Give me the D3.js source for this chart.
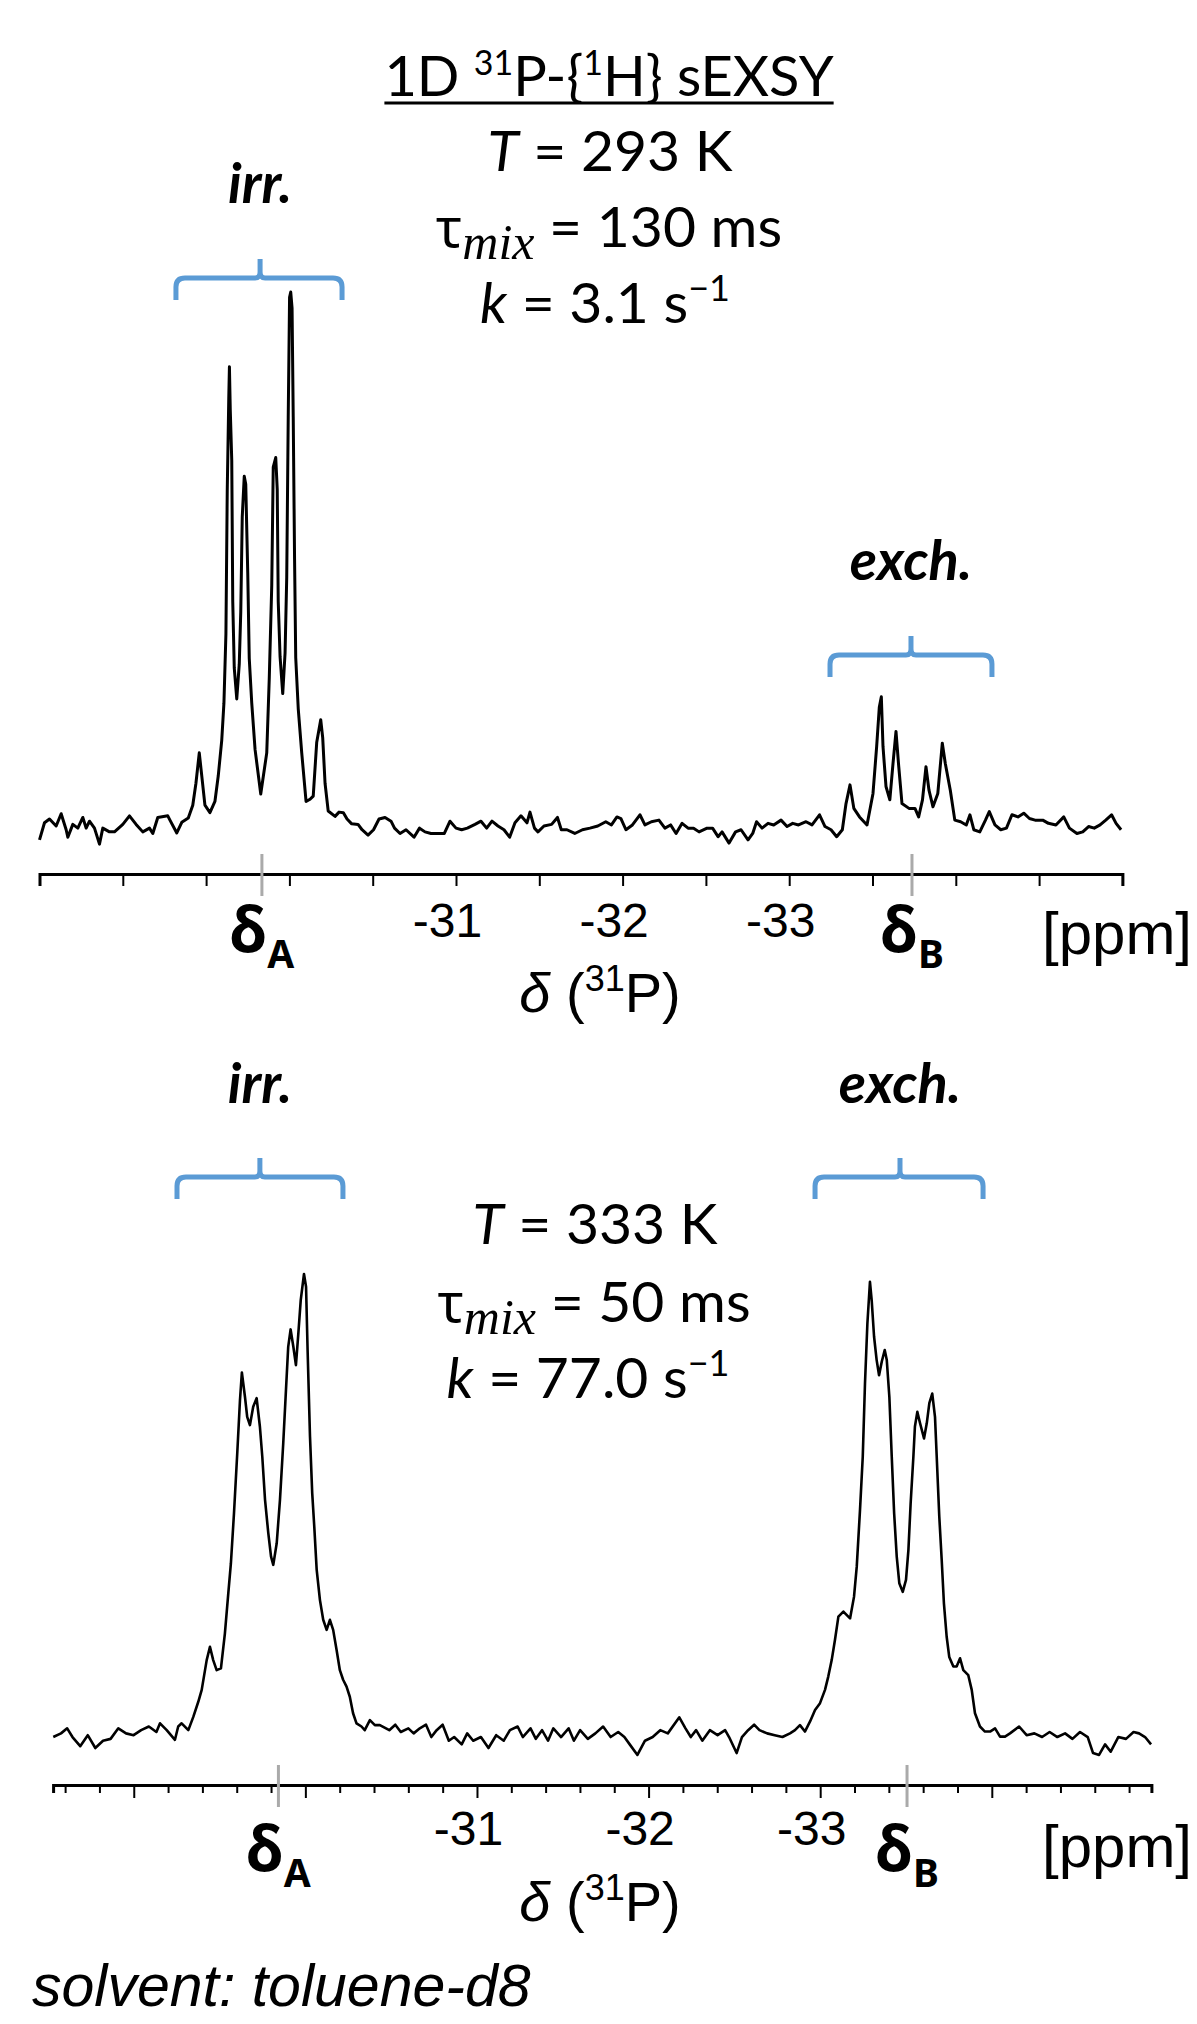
<html>

<head>
    <script src="https://d3js.org/d3.v7.min.js"></script>
    <style>
        body { margin: 0; background: #fff; }
        svg { display: block; background: #fff; }
    </style>
</head>

<body>
    <div id="chart">
        <svg width="1197" height="2024"></svg>
    </div>
    <script>
        // 31P spectrum at 293 K, [ppm, intensity] (tallest line = 100)
        var spec293 = [
            [-28.50, -2.6], [-28.53, 0.6], [-28.56, 1.3], [-28.60, 0.0], [-28.63, 2.3], [-28.66, -0.7], [-28.67, -2.1],
            [-28.70, 0.3], [-28.73, -0.4], [-28.76, 1.6], [-28.78, -0.4], [-28.80, 0.9], [-28.83, -0.4], [-28.86, -3.4],
            [-28.88, -0.4], [-28.92, -1.1], [-28.95, -1.1], [-29.00, 0.3], [-29.04, 1.9], [-29.08, 0.3], [-29.12, -1.1],
            [-29.16, -0.4], [-29.18, -1.4], [-29.21, 1.6], [-29.27, 1.9], [-29.283, 1.1], [-29.324, -1.3], [-29.354, 0.7],
            [-29.393, 1.5], [-29.420, 3.9], [-29.439, 8.0], [-29.459, 13.7], [-29.474, 9.4], [-29.493, 3.9], [-29.523, 2.5],
            [-29.553, 4.6], [-29.573, 9.4], [-29.594, 16.1], [-29.607, 23.0], [-29.619, 36.0], [-29.627, 63.0], [-29.636, 80.0],
            [-29.640, 86.0], [-29.645, 78.0], [-29.654, 68.4], [-29.660, 42.0], [-29.669, 29.6], [-29.684, 23.8], [-29.699, 30.3],
            [-29.708, 40.0], [-29.717, 57.9], [-29.729, 65.5], [-29.738, 64.0], [-29.750, 47.4], [-29.759, 31.4], [-29.774, 23.0],
            [-29.794, 14.3], [-29.828, 6.0], [-29.864, 13.7], [-29.879, 27.5], [-29.894, 45.0], [-29.903, 67.2], [-29.918, 69.0],
            [-29.927, 63.0], [-29.933, 42.0], [-29.944, 31.7], [-29.960, 24.8], [-29.974, 32.4], [-29.984, 46.6], [-29.993, 76.6],
            [-30.001, 99.0], [-30.008, 100], [-30.016, 97.0], [-30.023, 76.6], [-30.031, 50.0], [-30.038, 31.5], [-30.053, 22.0],
            [-30.074, 13.7], [-30.100, 4.6], [-30.124, 5.0], [-30.143, 5.6], [-30.164, 15.7], [-30.188, 19.9], [-30.200, 16.5],
            [-30.214, 8.0], [-30.233, 2.8], [-30.274, 1.8], [-30.298, 2.6], [-30.324, 2.5], [-30.346, 1.3], [-30.374, 0.4],
            [-30.412, 0.3], [-30.436, -0.7], [-30.472, -1.7], [-30.505, -0.7], [-30.538, 1.3], [-30.574, 1.6], [-30.610, 0.9],
            [-30.631, -0.4], [-30.664, -1.4], [-30.700, -0.7], [-30.748, -2.1], [-30.781, -0.4], [-30.814, -1.1], [-30.850, -1.4],
            [-30.886, -1.4], [-30.930, -1.4], [-30.964, 0.9], [-31.000, -0.4], [-31.034, -0.7], [-31.068, -0.4], [-31.114, 0.3],
            [-31.150, 0.9], [-31.184, -0.4], [-31.216, 0.9], [-31.252, 0.0], [-31.288, -0.7], [-31.322, -2.1], [-31.354, 0.6],
            [-31.390, 1.9], [-31.426, 0.6], [-31.444, 2.6], [-31.471, -0.4], [-31.492, -1.1], [-31.528, 0.0], [-31.574, 0.3],
            [-31.609, 1.6], [-31.632, -0.7], [-31.666, -0.7], [-31.713, -1.4], [-31.759, -0.7], [-31.804, -0.4], [-31.851, 0.0],
            [-31.899, 0.8], [-31.933, 0.2], [-31.966, 1.7], [-31.990, 1.4], [-32.020, -0.7], [-32.059, 0.2], [-32.104, 2.1],
            [-32.134, 0.2], [-32.173, 0.8], [-32.218, 1.1], [-32.254, -0.4], [-32.288, 0.2], [-32.321, -1.4], [-32.357, 0.5],
            [-32.393, -0.4], [-32.426, -0.4], [-32.459, -1.1], [-32.507, -0.4], [-32.540, -0.4], [-32.573, -2.0], [-32.597, -1.1],
            [-32.639, -3.2], [-32.678, -1.1], [-32.711, -0.7], [-32.753, -2.6], [-32.781, -1.4], [-32.804, 0.8], [-32.837, -0.4],
            [-32.873, 0.5], [-32.907, 0.2], [-32.951, 1.1], [-32.987, -0.1], [-33.021, 0.5], [-33.056, 0.2], [-33.101, 0.8],
            [-33.137, 0.2], [-33.182, 2.1], [-33.215, -0.1], [-33.251, -0.7], [-33.285, -2.0], [-33.319, -0.7], [-33.341, 4.2],
            [-33.365, 7.7], [-33.388, 3.3], [-33.422, 1.7], [-33.467, 0.2], [-33.503, 6.1], [-33.525, 14.9], [-33.541, 22.3],
            [-33.553, 24.2], [-33.563, 14.9], [-33.581, 7.4], [-33.604, 4.9], [-33.623, 11.7], [-33.641, 17.7], [-33.656, 11.7],
            [-33.677, 4.2], [-33.719, 3.3], [-33.755, 3.3], [-33.777, 1.7], [-33.800, 4.9], [-33.821, 11.1], [-33.839, 6.7],
            [-33.863, 3.6], [-33.892, 6.1], [-33.919, 15.5], [-33.937, 11.7], [-33.967, 6.7], [-33.994, 1.1], [-34.029, 0.8],
            [-34.063, 0.2], [-34.085, 2.1], [-34.108, -0.7], [-34.144, -1.1], [-34.178, 1.1], [-34.201, 2.7], [-34.235, 0.2],
            [-34.270, -0.7], [-34.304, -0.4], [-34.337, 2.1], [-34.373, 1.7], [-34.408, 2.4], [-34.442, 1.4], [-34.476, 1.1],
            [-34.522, 1.1], [-34.556, 0.5], [-34.601, 0.2], [-34.648, 1.7], [-34.682, -0.4], [-34.727, -1.4], [-34.762, -1.1],
            [-34.797, -0.1], [-34.831, -0.4], [-34.866, 0.2], [-34.900, 1.1], [-34.935, 2.1], [-34.962, 0.5], [-34.992, -0.7]
        ]

        // 31P spectrum at 333 K, [ppm, intensity] (tallest line = 100)
        var spec333 = [
            [-28.531, -1.1], [-28.576, -0.3], [-28.612, 0.8], [-28.643, -1.1], [-28.688, -3.1], [-28.732, -0.7], [-28.776, -3.5],
            [-28.821, -1.9], [-28.865, -1.5], [-28.910, 0.8], [-28.955, -0.3], [-28.999, -0.7], [-29.043, 0.4], [-29.088, 1.2],
            [-29.132, 0.0], [-29.153, 1.9], [-29.192, 0.4], [-29.240, -1.7], [-29.259, 1.2], [-29.279, 1.9], [-29.318, 0.4],
            [-29.347, 3.3], [-29.376, 6.6], [-29.396, 9.2], [-29.425, 15.7], [-29.444, 18.6], [-29.463, 15.7], [-29.483, 13.5],
            [-29.508, 13.9], [-29.531, 21.5], [-29.551, 30.3], [-29.566, 36.8], [-29.584, 47.7], [-29.603, 60.8], [-29.619, 72.5],
            [-29.630, 78.5], [-29.648, 73.2], [-29.661, 68.8], [-29.677, 67.0], [-29.696, 71.0], [-29.716, 72.9], [-29.735, 66.7],
            [-29.749, 60.1], [-29.765, 50.7], [-29.784, 43.4], [-29.800, 38.3], [-29.813, 36.5], [-29.833, 41.2], [-29.852, 50.7],
            [-29.871, 63.0], [-29.887, 74.7], [-29.900, 84.1], [-29.914, 87.9], [-29.930, 84.1], [-29.945, 80.1], [-29.959, 87.0],
            [-29.973, 94.3], [-29.992, 100], [-30.004, 97.2], [-30.013, 83.4], [-30.027, 64.5], [-30.040, 52.1], [-30.052, 44.8],
            [-30.066, 35.4], [-30.085, 28.8], [-30.104, 24.5], [-30.124, 22.3], [-30.143, 24.5], [-30.162, 22.3], [-30.182, 17.9],
            [-30.201, 13.5], [-30.220, 11.4], [-30.240, 9.9], [-30.259, 7.7], [-30.278, 4.1], [-30.298, 1.9], [-30.327, 1.2],
            [-30.346, 0.4], [-30.376, 2.6], [-30.405, 1.5], [-30.434, 1.5], [-30.489, 0.4], [-30.524, 1.6], [-30.556, 0.0],
            [-30.600, 0.8], [-30.631, -0.3], [-30.667, 0.8], [-30.703, 1.6], [-30.734, -1.1], [-30.765, 0.4], [-30.800, 1.6],
            [-30.836, -1.9], [-30.867, -1.1], [-30.911, -2.7], [-30.943, -0.3], [-30.978, -1.9], [-31.023, -1.1], [-31.067, -3.5],
            [-31.112, -0.7], [-31.156, -1.9], [-31.192, 0.4], [-31.237, 1.2], [-31.267, -1.1], [-31.312, 0.8], [-31.343, -1.5],
            [-31.379, 0.4], [-31.414, -1.9], [-31.445, 0.8], [-31.490, -1.1], [-31.534, 0.8], [-31.565, -1.9], [-31.601, 0.4],
            [-31.646, -1.5], [-31.690, -0.3], [-31.735, 1.2], [-31.779, -1.1], [-31.823, 0.0], [-31.859, -1.1], [-31.890, -2.7],
            [-31.935, -5.0], [-31.979, -1.9], [-32.024, -1.1], [-32.068, 0.4], [-32.112, -0.3], [-32.179, 3.2], [-32.215, 0.8],
            [-32.246, -1.1], [-32.277, 0.4], [-32.313, -1.9], [-32.357, 0.4], [-32.402, -0.7], [-32.446, 0.4], [-32.469, -1.1],
            [-32.513, -4.6], [-32.544, -1.1], [-32.580, 0.4], [-32.615, 1.6], [-32.646, 0.4], [-32.691, -0.3], [-32.735, -0.7],
            [-32.780, -1.1], [-32.824, -0.3], [-32.853, 0.4], [-32.882, 1.5], [-32.911, 0.1], [-32.941, 2.3], [-32.970, 4.8],
            [-32.999, 6.3], [-33.028, 9.2], [-33.047, 12.1], [-33.067, 15.7], [-33.086, 20.1], [-33.106, 25.2], [-33.135, 26.3],
            [-33.174, 24.8], [-33.197, 29.5], [-33.213, 36.1], [-33.232, 48.5], [-33.248, 60.1], [-33.261, 76.1], [-33.275, 89.2],
            [-33.290, 98.3], [-33.300, 94.3], [-33.314, 86.3], [-33.329, 81.2], [-33.343, 77.9], [-33.359, 80.9], [-33.376, 83.4],
            [-33.388, 81.2], [-33.403, 73.2], [-33.417, 60.1], [-33.431, 47.7], [-33.446, 38.3], [-33.461, 32.5], [-33.481, 30.6],
            [-33.500, 33.2], [-33.514, 39.7], [-33.527, 49.9], [-33.543, 60.1], [-33.552, 66.7], [-33.566, 69.9], [-33.582, 67.4],
            [-33.605, 64.1], [-33.621, 67.4], [-33.636, 71.8], [-33.653, 73.9], [-33.669, 68.8], [-33.679, 60.1], [-33.694, 47.0],
            [-33.708, 37.6], [-33.721, 28.1], [-33.737, 20.8], [-33.752, 16.4], [-33.776, 14.3], [-33.795, 14.3], [-33.815, 16.1],
            [-33.834, 13.5], [-33.863, 12.4], [-33.883, 9.2], [-33.902, 4.1], [-33.931, 1.2], [-33.960, 0.1], [-33.990, 0.1],
            [-34.019, 0.8], [-34.048, -1.0], [-34.077, -1.0], [-34.106, -0.3], [-34.159, 1.2], [-34.203, -0.7], [-34.248, -0.3],
            [-34.293, -1.1], [-34.337, 0.0], [-34.382, -1.1], [-34.427, -0.3], [-34.470, -1.5], [-34.514, 0.0], [-34.559, -1.1],
            [-34.590, -4.6], [-34.625, -5.0], [-34.660, -2.7], [-34.693, -4.3], [-34.737, -1.1], [-34.782, -1.5], [-34.826, 0.0],
            [-34.858, -0.3], [-34.893, -1.1], [-34.928, -2.7]
        ]

        // axis ticks
        var ticks293 = [-28.5, -29, -29.5, -30, -30.5, -31, -31.5, -32, -32.5, -33, -33.5, -34, -34.5, -35]
        var ticks333 = [-28.6, -28.8, -29, -29.2, -29.4, -29.6, -29.8, -30, -30.2, -30.4, -30.6, -30.8, -31, -31.2, -31.4,
            -31.6, -31.8, -32, -32.2, -32.4, -32.6, -32.8, -33, -33.2, -33.4, -33.6, -33.8, -34, -34.2, -34.4, -34.6, -34.8]
        var tickLabels = [-31, -32, -33]

        // chemical shifts of the two sites
        var shifts293 = [{ site: 'A', ppm: -29.835 }, { site: 'B', ppm: -33.737 }]
        var shifts333 = [{ site: 'A', ppm: -29.843 }, { site: 'B', ppm: -33.506 }]

        // irradiated / exchanged multiplet ranges (ppm)
        var groups293 = [{ name: 'irr.', from: -29.319, mid: -29.824, to: -30.316 },
            { name: 'exch.', from: -33.245, mid: -33.731, to: -34.217 }]
        var groups333 = [{ name: 'irr.', from: -29.252, mid: -29.735, to: -30.219 },
            { name: 'exch.', from: -32.970, mid: -33.465, to: -33.949 }]

        // experiment parameters
        var temps = ['293 K', '333 K']
        var mixTimes = ['130 ms', '50 ms']
        var rates = ['3.1', '77.0']

        var calibri = "Lato, 'Noto Sans', sans-serif"
        var arial = "'Liberation Sans', Arial, sans-serif"
        var greek = "'Noto Sans', 'DejaVu Sans', sans-serif"
        var mathIt = "'Liberation Serif', 'DejaVu Serif', serif"
        var blue = '#5b9bd5'

        var svg = d3.select('#chart svg')

        function addText(x, y, parts, o) {
            o = o || {}
            var t = svg.append('text')
                .attr('x', x)
                .attr('y', y)
                .attr('text-anchor', o.anchor || 'middle')
                .style('font-family', o.family || calibri)
                .style('font-size', (o.size || 56) + 'px')
                .style('fill', '#000')
            if (o.style) t.style('font-style', o.style)
            if (o.weight) t.style('font-weight', o.weight)
            parts.forEach(function(p) {
                if (typeof p == 'string') p = { t: p }
                var s = t.append('tspan').text(p.t)
                if (p.dy) s.attr('dy', p.dy)
                if (p.size) s.style('font-size', p.size + 'px')
                if (p.family) s.style('font-family', p.family)
                if (p.style) s.style('font-style', p.style)
                if (p.weight) s.style('font-weight', p.weight)
            })
            return t
        }

        // title
        var title = addText(609, 96, ['1D ', { t: '31', size: 34, dy: -21 }, { t: 'P-{', dy: 21 },
            { t: '1', size: 34, dy: -21 }, { t: 'H} sEXSY', dy: 21 }], { size: 56 })
        var tb = title.node().getBBox()
        svg.append('line')
            .attr('x1', tb.x).attr('x2', tb.x + tb.width)
            .attr('y1', 103).attr('y2', 103)
            .style('stroke', '#000').style('stroke-width', 3)

        function drawPanel(p) {
            var x = p.x,
                y = p.y

            // parameter block
            addText(p.cx[0], p.base[0], [{ t: 'T', style: 'italic' }, ' = ' + p.temp], { size: 57 })
            addText(p.cx[1], p.base[1], [{ t: 'τ', family: greek, size: 54 },
                { t: 'mix', family: mathIt, style: 'italic', size: 50, dy: 12 },
                { t: ' = ' + p.mix, dy: -12 }], { size: 57 })
            addText(p.cx[2], p.base[2], [{ t: 'k', style: 'italic' }, ' = ' + p.rate + ' s',
                { t: '−1', size: 36, dy: -22 }], { size: 57 })

            // brackets over the multiplets
            var g = svg.append('g')
            p.groups.forEach(function(d, i) {
                var x0 = x(d.from),
                    x1 = x(d.to),
                    xc = x(d.mid),
                    yl = p.brLine[i],
                    r = 9
                var path = 'M' + x0 + ',' + (yl + 22) + 'V' + (yl + r) + 'Q' + x0 + ',' + yl + ' ' + (x0 + r) + ',' + yl +
                    'H' + (xc - 5) + 'Q' + xc + ',' + yl + ' ' + xc + ',' + (yl - 6) + 'V' + (yl - 19) +
                    'M' + xc + ',' + (yl - 6) + 'Q' + xc + ',' + yl + ' ' + (xc + 5) + ',' + yl +
                    'H' + (x1 - r) + 'Q' + x1 + ',' + yl + ' ' + x1 + ',' + (yl + r) + 'V' + (yl + 22)
                g.append('path')
                    .attr('d', path)
                    .style('fill', 'none')
                    .style('stroke', blue)
                    .style('stroke-width', 5)
                addText(xc, p.grpBase[i], [d.name], { size: 56, weight: 'bold', style: 'italic' })
            })

            // spectrum
            var line = d3.line()
                .x(function(d) { return x(d[0]) })
                .y(function(d) { return y(d[1]) })
            svg.append('path')
                .datum(p.data)
                .attr('d', line)
                .style('fill', 'none')
                .style('stroke', '#000')
                .style('stroke-width', p.lw)
                .style('stroke-linejoin', 'round')

            // axis
            var axis = d3.axisBottom(x)
                .tickValues(p.ticks)
                .tickSizeOuter(0)
                .tickSize(p.tickLen)
                .tickFormat(function(d) {
                    return tickLabels.indexOf(d) >= 0 ? String(d) : ''
                })
            var ag = svg.append('g')
                .attr('transform', 'translate(0,' + p.axisY + ')')
                .call(axis)
            ag.select('.domain').style('stroke', '#000').style('stroke-width', 3)
            ag.selectAll('.tick line')
                .style('stroke', '#000')
                .style('stroke-width', 2)
                .attr('y2', function(d) {
                    return p.major && Math.abs(d - Math.round(d)) < 1e-6 ? p.tickLen + 5 : p.tickLen
                })
            ag.selectAll('.tick text')
                .attr('y', p.labelY)
                .attr('dy', 0)
                .attr('dx', -9)
                .style('font-family', arial)
                .style('font-size', '48px')
                .style('fill', '#000')

            // site markers
            p.shifts.forEach(function(d) {
                svg.append('line')
                    .attr('x1', x(d.ppm)).attr('x2', x(d.ppm))
                    .attr('y1', p.axisY - 20).attr('y2', p.axisY + 22)
                    .style('stroke', '#aaa')
                    .style('stroke-width', 3)
                addText(x(d.ppm), p.axisY + p.deltaY, [{ t: 'δ', size: 62 }, { t: d.site, size: 39, dy: 16 }], {
                    family: greek,
                    weight: 'bold'
                })
            })

            addText(1117, p.axisY + p.ppmY, ['[ppm]'], { family: arial, size: 60 })
            addText(600, p.axisY + p.titleY, [{ t: 'δ', style: 'italic' }, ' (', { t: '31', size: 36, dy: -21 },
                { t: 'P)', dy: 21 }], { family: arial, size: 56 })
        }

        drawPanel({
            data: spec293,
            x: d3.scaleLinear().domain([-28.5, -35]).range([39.5, 1122.4]),
            y: d3.scaleLinear().domain([0, 100]).range([826, 292]),
            ticks: ticks293,
            tickLen: 12,
            major: false,
            axisY: 874,
            labelY: 63,
            deltaY: 78,
            ppmY: 80,
            titleY: 138,
            lw: 3,
            shifts: shifts293,
            groups: groups293,
            brLine: [278, 655],
            grpBase: [203, 580],
            temp: temps[0],
            mix: mixTimes[0],
            rate: rates[0],
            cx: [610, 609, 605],
            base: [171, 247, 323]
        })

        drawPanel({
            data: spec333,
            x: d3.scaleLinear().domain([-28.53, -34.93]).range([53.1, 1151.4]),
            y: d3.scaleLinear().domain([0, 100]).range([1732, 1274]),
            ticks: ticks333,
            tickLen: 8,
            major: true,
            axisY: 1785,
            labelY: 60,
            deltaY: 86,
            ppmY: 82,
            titleY: 136,
            lw: 2.6,
            shifts: shifts333,
            groups: groups333,
            brLine: [1177, 1177],
            grpBase: [1103, 1103],
            temp: temps[1],
            mix: mixTimes[1],
            rate: rates[1],
            cx: [595, 594, 588],
            base: [1244, 1322, 1398]
        })

        addText(32, 2006, ['solvent: toluene-d8'], { anchor: 'start', family: arial, size: 59, style: 'italic' })
    </script>
</body>

</html>
